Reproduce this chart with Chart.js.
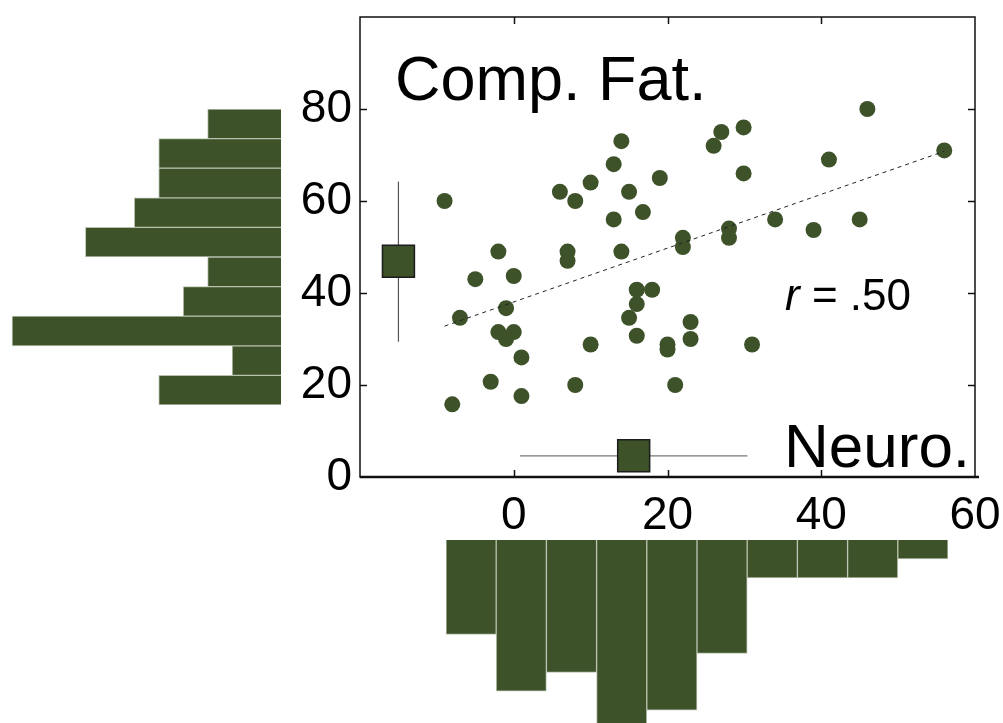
<!DOCTYPE html>
<html><head><meta charset="utf-8">
<script src="https://cdn.jsdelivr.net/npm/chart.js@4/dist/chart.umd.min.js"></script>
<style>
html,body{margin:0;padding:0;background:#fff;}
#wrap{position:relative;width:1003px;height:723px;overflow:hidden;background:#fff;}
canvas{position:absolute;}
</style></head><body>
<div id="wrap">
<canvas id="main" width="1003" height="723" style="left:0;top:0;"></canvas>
<canvas id="histY" width="281" height="296" style="left:0;top:109px;"></canvas>
<canvas id="histX" width="502" height="183" style="left:446px;top:540px;"></canvas>
</div>
<script>
// ---- data ----
const neuro   = [-9,-7,-8,-5,-3,-2,-1,-2,0,-1,0,1,1,6,8,7,7,10,8,10,13,14,13,14,15,16.8,19,16,18,16,15,16,20,20,21,22,22,23,23,26,27,29.9,29.9,28,28,31,34,39,41,45,46,56];
const compFat = [60,34.6,15.8,43,20.7,49,36.7,31.5,31.5,30,43.7,26,17.6,62,60,49,47,64,20,28.8,68,73,56,49,62,57.6,65,40.7,40.7,37.6,34.6,30.7,28.8,27.7,20,52,50,33.7,30,72,75,76,66,54,52,28.8,56,53.7,69,56,80,71];

const neuroBins   = ['-9.0','-2.5','4.0','10.5','17.0','23.5','30.0','36.5','43.0','49.5'];
const neuroCounts = [5,8,7,10,9,6,2,2,2,1];
const compFatBins   = ['16.0','22.4','28.8','35.2','41.6','48.0','54.4','60.8','67.2','73.6'];
const compFatCounts = [5,2,11,4,3,8,6,5,5,3];

const regLineX = [-9,56];
const regLineY = [32.8,70.8];

const neuroSummary   = {mean:15.6, low:0.8, high:30.4, at:4.6};
const compFatSummary = {mean:46.9, low:29.4, high:64.2, at:-15};

const xTickValues = [0,20,40,60];
const yTickValues = [0,20,40,60,80];
const xRange = [-20,60];
const yRange = [0,100];

// ---- styles ----
const GREEN = '#3d5229';
const FONT = 'Liberation Sans, Arial, sans-serif';

function zeroPad(s){ s.paddingTop = 0; s.paddingBottom = 0; s.paddingLeft = 0; s.paddingRight = 0; }

const framePlugin = {
  id:'frame',
  afterDatasetsDraw(chart){
    const {ctx, chartArea:a, scales:{x,y}} = chart;
    ctx.save();
    ctx.strokeStyle = '#111';
    ctx.lineWidth = 1.5;
    ctx.strokeRect(a.left, a.top, a.right-a.left, a.bottom-a.top);
    ctx.lineWidth = 2.5;
    ctx.beginPath(); ctx.moveTo(a.left, a.bottom); ctx.lineTo(a.right+4, a.bottom); ctx.stroke();
    ctx.lineWidth = 1.5;
    const tl = 7;
    ctx.beginPath();
    xTickValues.forEach(v=>{
      if (v<=xRange[0]||v>=xRange[1]) return;
      const px = Math.round(x.getPixelForValue(v))+0.5;
      ctx.moveTo(px,a.bottom); ctx.lineTo(px,a.bottom-tl);
      ctx.moveTo(px,a.top); ctx.lineTo(px,a.top+tl);
    });
    yTickValues.forEach(v=>{
      if (v<=yRange[0]||v>=yRange[1]) return;
      const py = Math.round(y.getPixelForValue(v))+0.5;
      ctx.moveTo(a.left,py); ctx.lineTo(a.left+tl,py);
      ctx.moveTo(a.right,py); ctx.lineTo(a.right-tl,py);
    });
    ctx.stroke();
    ctx.restore();
  },
  afterDraw(chart){
    const ctx = chart.ctx;
    ctx.save();
    ctx.fillStyle = '#000';
    ctx.textBaseline = 'alphabetic';
    ctx.textAlign = 'left';
    ctx.font = '63px ' + FONT;
    ctx.fillText('Comp. Fat.', 395, 100);
    ctx.font = '62px ' + FONT;
    ctx.fillText('Neuro.', 784, 467);
    ctx.font = 'italic 44px ' + FONT;
    ctx.fillText('r', 785, 310);
    const rw = ctx.measureText('r').width;
    ctx.font = '44px ' + FONT;
    ctx.fillText(' = .50', 785+rw, 310);
    ctx.restore();
  }
};

new Chart(document.getElementById('main'), {
  type:'scatter',
  data:{
    datasets:[
      { data: regLineX.map((v,i)=>({x:v,y:regLineY[i]})), showLine:true, pointRadius:0,
        borderColor:'#222', borderWidth:1, borderDash:[4,4] },
      { data: neuro.map((v,i)=>({x:v,y:compFat[i]})), pointRadius:8, pointHoverRadius:8,
        backgroundColor:GREEN, borderWidth:0 },
      { data: [{x:compFatSummary.at,y:compFatSummary.mean},{x:neuroSummary.mean,y:neuroSummary.at}],
        pointStyle:'rect', pointRadius:22.6, backgroundColor:GREEN, borderColor:'#1c1c1c', borderWidth:1.5 },
      { data: [{x:compFatSummary.at,y:compFatSummary.low},{x:compFatSummary.at,y:compFatSummary.high}],
        showLine:true, pointRadius:0, borderColor:'#555', borderWidth:1.2 },
      { data: [{x:neuroSummary.low,y:neuroSummary.at},{x:neuroSummary.high,y:neuroSummary.at}],
        showLine:true, pointRadius:0, borderColor:'#777', borderWidth:1.2 }
    ]
  },
  options:{
    responsive:false, animation:false, devicePixelRatio:1,
    layout:{padding:{left:0,top:17,right:28,bottom:0}, autoPadding:false},
    plugins:{legend:{display:false}, tooltip:{enabled:false}},
    scales:{
      x:{type:'linear', min:xRange[0], max:xRange[1],
         afterBuildTicks(s){ s.ticks = xTickValues.map(v=>({value:v})); },
         afterFit(s){ s.height = 246; zeroPad(s); },
         ticks:{font:{family:FONT,size:46}, color:'#000', padding:12, maxRotation:0, autoSkip:false},
         grid:{display:false, drawTicks:false}, border:{display:false}},
      y:{type:'linear', min:yRange[0], max:yRange[1],
         afterBuildTicks(s){ s.ticks = yTickValues.map(v=>({value:v})); },
         afterFit(s){ s.width = 360; zeroPad(s); },
         ticks:{font:{family:FONT,size:46}, color:'#000', padding:8, autoSkip:false},
         grid:{display:false, drawTicks:false}, border:{display:false}}
    }
  },
  plugins:[framePlugin]
});

const barCommon = {backgroundColor:GREEN, borderColor:'#b9c1ae', borderWidth:1,
                   barPercentage:1, categoryPercentage:1};

new Chart(document.getElementById('histY'), {
  type:'bar',
  data:{labels:compFatBins, datasets:[Object.assign({data:compFatCounts}, barCommon)]},
  options:{
    indexAxis:'y', responsive:false, animation:false, devicePixelRatio:1,
    layout:{padding:0},
    plugins:{legend:{display:false}, tooltip:{enabled:false}},
    scales:{
      y:{type:'category', reverse:true, display:false},
      x:{type:'linear', min:0, max:281/24.45, reverse:true, display:false}
    }
  }
});

new Chart(document.getElementById('histX'), {
  type:'bar',
  data:{labels:neuroBins, datasets:[Object.assign({data:neuroCounts}, barCommon)]},
  options:{
    responsive:false, animation:false, devicePixelRatio:1,
    layout:{padding:0},
    plugins:{legend:{display:false}, tooltip:{enabled:false}},
    scales:{
      x:{type:'category', display:false},
      y:{type:'linear', min:0, max:183/18.9, reverse:true, display:false}
    }
  }
});
</script>
</body></html>
